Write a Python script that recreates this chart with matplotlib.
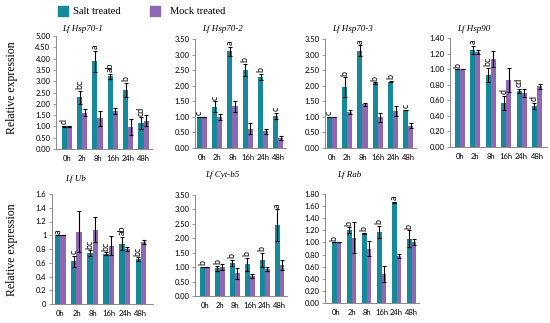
import matplotlib
matplotlib.use("Agg")
import matplotlib.pyplot as plt
from matplotlib.patches import Rectangle
from matplotlib.ticker import FormatStrFormatter, MultipleLocator
import numpy as np

# ============== Data ================
times = ["0h", "2h", "8h", "16h", "24h", "48h"]

genes = ["Lf Hsp70-1", "Lf Hsp70-2", "Lf Hsp70-3", "Lf Hsp90",
         "Lf Ub", "Lf Cyt-b5", "Lf Rab"]

salt_mean = [
    [1.00, 2.28, 3.88, 3.22, 2.62, 1.15],
    [1.00, 1.32, 3.10, 2.51, 2.29, 1.02],
    [1.00, 1.95, 3.12, 2.08, 2.13, 1.22],
    [1.00, 1.25, 0.93, 0.57, 0.72, 0.53],
    [1.00, 0.62, 0.74, 0.73, 0.88, 0.65],
    [1.00, 0.96, 1.15, 1.10, 1.25, 2.46],
    [1.00, 1.20, 1.15, 1.17, 1.66, 1.06],
]
salt_err = [
    [0.01, 0.30, 0.46, 0.12, 0.30, 0.25],
    [0.01, 0.18, 0.15, 0.20, 0.10, 0.10],
    [0.01, 0.32, 0.18, 0.03, 0.02, 0.01],
    [0.00, 0.05, 0.09, 0.09, 0.03, 0.04],
    [0.00, 0.08, 0.04, 0.02, 0.10, 0.03],
    [0.01, 0.08, 0.10, 0.22, 0.25, 0.55],
    [0.00, 0.05, 0.01, 0.10, 0.01, 0.14],
]
mock_mean = [
    [1.00, 1.60, 1.35, 1.68, 0.97, 1.25],
    [1.00, 1.00, 1.34, 0.62, 0.53, 0.33],
    [1.00, 1.15, 1.41, 0.98, 1.19, 0.72],
    [1.00, 1.22, 1.13, 0.86, 0.69, 0.78],
    [1.00, 1.05, 1.08, 0.85, 0.80, 0.90],
    [1.00, 1.00, 0.78, 0.70, 0.92, 1.07],
    [1.00, 1.08, 0.90, 0.48, 0.78, 1.00],
]
mock_err = [
    [0.01, 0.15, 0.33, 0.15, 0.37, 0.25],
    [0.00, 0.10, 0.18, 0.17, 0.08, 0.06],
    [0.00, 0.07, 0.05, 0.15, 0.15, 0.08],
    [0.00, 0.02, 0.10, 0.15, 0.05, 0.03],
    [0.00, 0.30, 0.18, 0.14, 0.03, 0.03],
    [0.00, 0.10, 0.18, 0.07, 0.07, 0.17],
    [0.00, 0.25, 0.12, 0.13, 0.03, 0.05],
]
letters = [
    ["d", "bc", "a", "ab", "b", "cd"],
    ["c", "c", "a", "b", "b", "c"],
    ["c", "b", "a", "b", "b", "c"],
    ["b", "a", "bc", "d", "cd", "d"],
    ["a", "c", "bc", "bc", "ab", "bc"],
    ["b", "b", "b", "b", "b", "a"],
    ["b", "b", "b", "b", "a", "b"],
]
y_max = [5.0, 3.5, 3.5, 1.4, 1.6, 3.5, 1.8]
y_step = [0.5, 0.5, 0.5, 0.2, 0.2, 0.5, 0.2]
y_fmt = ["%.2f", "%.2f", "%.2f", "%.2f", "%g", "%.2f", "%.2f"]

# ============== Layout (pixels) ================
W, H = 550, 323
# left, right, top, bottom, xlim
PANELS = [
    (56, 152, 36, 149, (-0.70, 5.55)),
    (195, 286, 39, 148, (-0.45, 5.50)),
    (325, 416, 39, 148, (-0.45, 5.50)),
    (450, 547, 38, 147, (-0.65, 5.65)),
    (52, 153, 194, 304, (-0.52, 5.75)),
    (195, 287, 195, 296, (-0.67, 5.50)),
    (325, 419, 194, 303, (-0.77, 5.50)),
]
TITLE_POS = [(62, 29), (202, 29), (332, 29), (457, 29),
             (65, 179), (205, 175), (337, 175)]

SALT_COLOR = "#16899a"
MOCK_COLOR = "#8f67b3"
AXIS_COLOR = "#8a8a8a"
SERIF = "Liberation Serif"
SANS = "Lato"

plt.rcParams.update({
    "font.family": SANS,
    "font.size": 5.5,
})

fig = plt.figure(figsize=(W / 100, H / 100), dpi=100)


def px_rect(l, r, t, b):
    return [l / W, 1 - b / H, (r - l) / W, (b - t) / H]


bw = 0.33
x = np.arange(len(times))
for i, (l, r, t, b, xl) in enumerate(PANELS):
    ax = fig.add_axes(px_rect(l, r, t, b))
    sm, se = np.array(salt_mean[i]), np.array(salt_err[i])
    mm, me = np.array(mock_mean[i]), np.array(mock_err[i])
    ekw = dict(ecolor="black", elinewidth=0.8, capsize=1.3, capthick=0.8)
    ax.bar(x - bw / 2, sm, bw, yerr=se, color=SALT_COLOR, error_kw=ekw, zorder=2)
    ax.bar(x + bw / 2, mm, bw, yerr=me, color=MOCK_COLOR, error_kw=ekw, zorder=2)
    for k in range(len(times)):
        ax.text(x[k] - bw / 2, sm[k] + se[k] + y_max[i] * 0.015, letters[i][k],
                rotation=90, ha="center", va="bottom", fontsize=6.5,
                family=SANS)
    ax.set_xlim(*xl)
    ax.set_ylim(0, y_max[i])
    ax.yaxis.set_major_locator(MultipleLocator(y_step[i]))
    ax.yaxis.set_major_formatter(FormatStrFormatter(y_fmt[i]))
    ax.set_xticks(x)
    ax.set_xticklabels(times)
    ax.tick_params(axis="x", length=0, pad=4, labelsize=5.5)
    ax.tick_params(axis="y", length=2.5, width=0.6, color=AXIS_COLOR,
                   pad=1.5, labelsize=5.5)
    for s in ["top", "right"]:
        ax.spines[s].set_visible(False)
    for s in ["left", "bottom"]:
        ax.spines[s].set_color(AXIS_COLOR)
        ax.spines[s].set_linewidth(0.7)
    tx, ty = TITLE_POS[i]
    fig.text(tx / W, 1 - ty / H, genes[i], family=SERIF, style="italic",
             fontsize=6.5, ha="left", va="center")

# ============== Y labels ================
for yc in [88, 250]:
    fig.text(12 / W, 1 - yc / H, "Relative expression", family=SERIF,
             fontsize=8.5, rotation=90, ha="center", va="center")

# ============== Legend ================
for (sx, tx_, lbl, col) in [(58, 73, "Salt treated", SALT_COLOR),
                            (150, 170, "Mock treated", MOCK_COLOR)]:
    fig.patches.append(Rectangle((sx / W, 1 - 16 / H), 10 / W, 10 / H,
                                 transform=fig.transFigure, color=col))
    fig.text(tx_ / W, 1 - 11 / H, lbl, family=SERIF, fontsize=7.5,
             ha="left", va="center")

fig.savefig("out.png", dpi=100)
